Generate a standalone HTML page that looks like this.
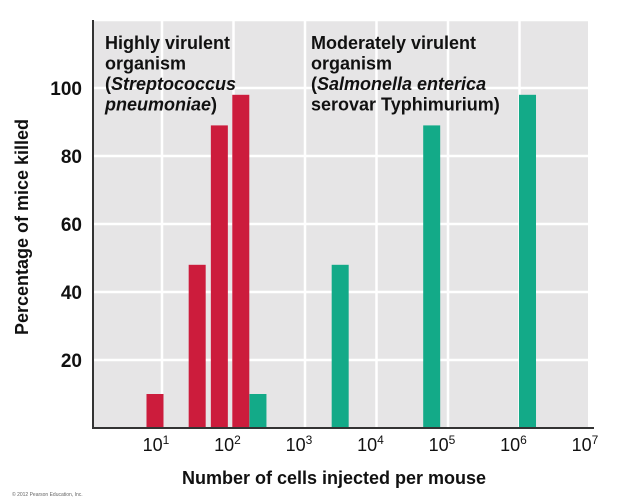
<!DOCTYPE html>
<html><head><meta charset="utf-8"><style>
body{margin:0;background:#fff;}
svg{display:block;font-family:"Liberation Sans",Arial,sans-serif;}
</style></head><body>
<svg id="chart" width="620" height="499" viewBox="0 0 620 499"></svg>
<script>
const redLogDose=[0.93,1.52,1.83,2.13];
const redPct=[10,48,89,98];
const greenLogDose=[2.37,3.52,4.8,6.14];
const greenPct=[10,48,89,98];
const yTicks=[20,40,60,80,100];
const xDecades=[1,2,3,4,5,6,7];

const NS="http://www.w3.org/2000/svg";
const svg=document.getElementById('chart');
const L=93,R=588,T=20,B=428;
const x=v=>88.5+v*71.5;
const y=v=>B-v*3.4;
function mk(t,a,p){const e=document.createElementNS(NS,t);for(const k in a)e.setAttribute(k,a[k]);(p||svg).appendChild(e);return e;}

const bg=mk('rect',{x:L,y:T,width:R-L,height:B-T,fill:'#e6e5e6'});


yTicks.concat([120]).forEach(v=>{
  const g=mk('line',{x1:L,x2:R,y1:y(v),y2:y(v),stroke:'#fff','stroke-width':2.5});
  
  
});
xDecades.forEach(d=>{
  const g=mk('line',{x1:x(d)+2,x2:x(d)+2,y1:T,y2:B,stroke:'#fff','stroke-width':2.5});
  
  
});
const bw=17;
function bars(xs,vs,col,nm){
  xs.forEach((lv,i)=>{
    const r=mk('rect',{x:x(lv)-bw/2,y:y(vs[i]),width:bw,height:B-y(vs[i]),fill:col});
    
    
  });
}
bars(redLogDose,redPct,'#cc1c3c','streptococcus');
bars(greenLogDose,greenPct,'#13aa88','salmonella');
const ax=mk('path',{d:`M${L},${T} V${B} H${R+6}`,fill:'none',stroke:'#333','stroke-width':2});


yTicks.forEach(v=>{
  const t=mk('text',{x:82,y:y(v)+7,'text-anchor':'end','font-size':19,'font-weight':'bold',fill:'#111'});
  t.textContent=v;
  
  
});
xDecades.forEach(d=>{
  const t=mk('text',{x:x(d)-4,y:451,'text-anchor':'middle','font-size':18,fill:'#111'});
  t.innerHTML='10<tspan dy="-7" font-size="12">'+d+'</tspan>';
  
  
});
</script>
<svg width="620" height="499" style="position:absolute;left:0;top:0">
<g font-family="Liberation Sans,Arial,sans-serif" font-weight="bold" font-size="18" fill="#111">
<text x="105" y="49">
<tspan x="105">Highly virulent</tspan>
<tspan x="105" dy="20.5">organism</tspan>
<tspan x="105" dy="20.5">(<tspan font-style="italic">Streptococcus</tspan></tspan>
<tspan x="105" dy="20.5"><tspan font-style="italic">pneumoniae</tspan>)</tspan>
</text>
<text x="311" y="49">
<tspan x="311">Moderately virulent</tspan>
<tspan x="311" dy="20.5">organism</tspan>
<tspan x="311" dy="20.5">(<tspan font-style="italic">Salmonella enterica</tspan></tspan>
<tspan x="311" dy="20.5">serovar Typhimurium)</tspan>
</text>
<text x="0" y="0" font-size="18" transform="translate(28,227) rotate(-90)" text-anchor="middle">Percentage of mice killed</text>
<text x="334" y="484" font-size="18" text-anchor="middle">Number of cells injected per mouse</text>
<text x="12" y="496" font-size="5" font-weight="normal" fill="#666">© 2012 Pearson Education, Inc.</text>
</g>
</svg>
</body></html>
